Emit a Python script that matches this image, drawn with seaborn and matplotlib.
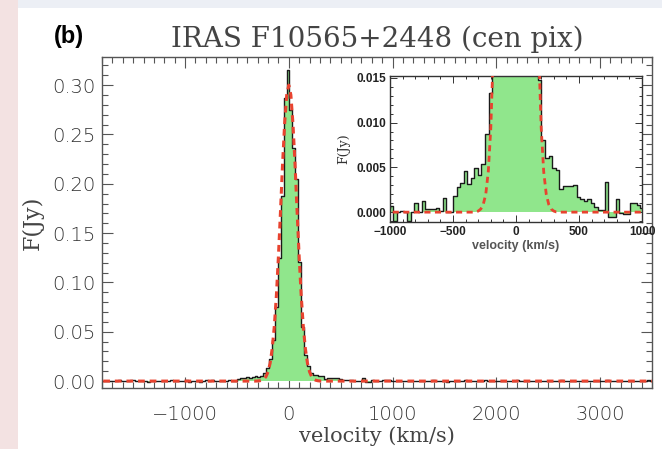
import numpy as np
import matplotlib
matplotlib.use("Agg")
import matplotlib.pyplot as plt
import seaborn as sns
from matplotlib.ticker import MultipleLocator, FormatStrFormatter
from matplotlib.patches import Rectangle

# ---------------- data ----------------
channel_start = -1814.0     # left edge of first channel, km/s
channel_width = 28.0        # km/s

flux_blue_far = [0.0004, -0.0003, 0.0002, 0.0006, -0.0002, 0.0001, 0.0008, 0.0003, -0.0004, 0.0002,
                 0.0007, 0.0010, 0.0002, -0.0003, 0.0001, 0.0005, -0.0006, -0.0002, 0.0003, 0.0006,
                 0.0001, -0.0004, 0.0002, 0.0004, 0.0008, 0.0002, -0.0003, 0.0003, 0.0005]

flux_core = [0.0007, -0.0010, 0.0000, 0.0001, 0.0000, -0.0010, 0.0000, 0.0010, 0.0000, 0.0012,
             0.0004, 0.0003, 0.0003, 0.0005, 0.0001, 0.0016, 0.0000, 0.0000, 0.0018, 0.0028,
             0.0032, 0.0046, 0.0031, 0.0038, 0.0049, 0.0041, 0.0054, 0.0087, 0.0133, 0.0220,
             0.0420, 0.0750, 0.1250, 0.1880, 0.2870, 0.3150, 0.2750, 0.2360, 0.2050, 0.1210,
             0.0550, 0.0260, 0.0148, 0.0081, 0.0060, 0.0063, 0.0049, 0.0047, 0.0026, 0.0029,
             0.0029, 0.0029, 0.0030, 0.0017, 0.0015, 0.0012, 0.0015, 0.0010, 0.0006, 0.0002,
             0.0002, 0.0034, -0.0005, -0.0005, 0.0015, -0.0001, -0.0002, -0.0002, 0.0010, 0.0010,
             0.0008, 0.0005]

flux_red_far = [0.0003, -0.0002, 0.0004, 0.0001, 0.0006, -0.0003, 0.0002, 0.0000, 0.0005, -0.0004,
                0.0001, 0.0003, -0.0002, 0.0007, 0.0002, -0.0001, 0.0004, 0.0000, -0.0005, 0.0002,
                0.0006, 0.0001, -0.0003, 0.0003, 0.0008, 0.0002, -0.0002, 0.0000, 0.0004, -0.0004,
                0.0003, 0.0007, 0.0001, -0.0002, 0.0005, 0.0002, -0.0003, 0.0001, 0.0006, 0.0003,
                -0.0001, 0.0004, 0.0009, 0.0002, -0.0002, 0.0003, 0.0000, 0.0005, -0.0003, 0.0002,
                0.0004, -0.0001, 0.0006, 0.0001, -0.0004, 0.0002, 0.0005, 0.0008, 0.0003, -0.0002,
                0.0001, 0.0004, -0.0003, 0.0002, 0.0006, 0.0000, -0.0002, 0.0003, 0.0005, 0.0001,
                -0.0003, 0.0002, 0.0004, 0.0007, 0.0002, -0.0001, 0.0003, 0.0000, 0.0005, 0.0002,
                -0.0002, 0.0004, 0.0001, 0.0006, 0.0003, -0.0001, 0.0002, 0.0008, 0.0003, 0.0001]

model_vel = [-1900, -340, -320, -300, -280, -260, -240, -220, -200, -180, -160, -140, -120, -100,
             -80, -60, -40, -20, 0, 20, 40, 60, 80, 100, 120, 140, 160, 180, 200, 220, 240,
             260, 280, 300, 320, 340, 3600]
model_flux = [0.0, 0.0, 0.00002, 0.00012, 0.00034, 0.00086, 0.0020, 0.0045, 0.0094, 0.0181,
              0.0327, 0.055, 0.086, 0.126, 0.172, 0.220, 0.261, 0.290, 0.300, 0.290, 0.261,
              0.220, 0.172, 0.126, 0.086, 0.055, 0.0327, 0.0181, 0.0094, 0.0045, 0.0020,
              0.00086, 0.00034, 0.00012, 0.00002, 0.0, 0.0]

title_text = "IRAS F10565+2448 (cen pix)"
panel_label = "(b)"
x_label = "velocity (km/s)"
y_label = "F(Jy)"

# ---------------- assemble ----------------
flux = np.array(flux_blue_far + flux_core + flux_red_far)
vel = channel_start + channel_width * (np.arange(len(flux)) + 0.5)

GREEN = "#90e68c"
RED = "#e8432f"
TXT = "#444444"
SERIF = ["DejaVu Serif", "Liberation Serif"]

sns.set_style("white")
plt.rcParams["font.family"] = ["DejaVu Sans", "Liberation Sans"]

fig = plt.figure(figsize=(6.62, 4.49), dpi=100)
fig.patch.set_facecolor("#eceff5")
fig.patches.append(Rectangle((0, 0), 18 / 662, 1, transform=fig.transFigure,
                             facecolor="#f3e2e2", edgecolor="none", zorder=-10))
fig.patches.append(Rectangle((18 / 662, 0), 1, (449 - 8) / 449, transform=fig.transFigure,
                             facecolor="white", edgecolor="none", zorder=-10))


def draw(ax, lw_step, lw_model):
    ax.fill_between(vel, 0, flux, step="mid", color=GREEN, lw=0, zorder=1)
    sns.lineplot(x=vel, y=flux, ax=ax, estimator=None, sort=False,
                 drawstyle="steps-mid", color="#1a1a1a", lw=lw_step, zorder=2)
    sns.lineplot(x=model_vel, y=model_flux, ax=ax, estimator=None, sort=False,
                 color=RED, lw=lw_model, zorder=3)
    ax.lines[-1].set_dashes([2.2, 1.6])


# main axes
ax = fig.add_axes([102 / 662, 1 - 388 / 449, 550 / 662, 331 / 449])
ax.set_facecolor("white")
draw(ax, 1.0, 2.2)
ax.set_xlim(-1800, 3500)
ax.set_ylim(-0.007, 0.3285)
ax.xaxis.set_major_locator(MultipleLocator(1000))
ax.xaxis.set_minor_locator(MultipleLocator(100))
ax.yaxis.set_major_locator(MultipleLocator(0.05))
ax.yaxis.set_minor_locator(MultipleLocator(0.01))
ax.yaxis.set_major_formatter(FormatStrFormatter("%.2f"))
ax.tick_params(which="both", direction="in", top=True, right=True, bottom=True, left=True,
               colors="#555555", labelcolor="#333333", labelsize=14, width=0.8)
ax.tick_params(which="major", length=8)
ax.tick_params(axis="x", which="major", pad=12)
ax.tick_params(axis="y", which="major", pad=5)
ax.tick_params(which="minor", length=4)
for lab in ax.get_xticklabels() + ax.get_yticklabels():
    lab.set_fontweight("light")
for s in ax.spines.values():
    s.set_color("#555555")
    s.set_linewidth(1.0)
ax.set_xlabel(x_label, family=SERIF, fontsize=15, color=TXT, labelpad=2)
ax.set_ylabel(y_label, family=SERIF, fontsize=16, color=TXT, labelpad=6)
ax.set_title(title_text, family=SERIF, fontsize=20, color=TXT, pad=7)
fig.text(54 / 662, 1 - 36 / 449, panel_label, fontsize=17, fontweight="bold",
         family=["Liberation Sans", "DejaVu Sans"], color="black", va="center", ha="left")

# inset
ax2 = fig.add_axes([390 / 662, 1 - 222 / 449, 252 / 662, 146 / 449])
ax2.set_facecolor("white")
draw(ax2, 1.0, 2.0)
ax2.set_xlim(-1000, 1000)
ax2.set_ylim(-0.0011, 0.0152)
ax2.xaxis.set_major_locator(MultipleLocator(500))
ax2.xaxis.set_minor_locator(MultipleLocator(100))
ax2.yaxis.set_major_locator(MultipleLocator(0.005))
ax2.yaxis.set_minor_locator(MultipleLocator(0.001))
ax2.yaxis.set_major_formatter(FormatStrFormatter("%.3f"))
ax2.tick_params(which="both", direction="in", top=True, right=True, bottom=True, left=True,
                colors="#333333", labelcolor="#222222", labelsize=8.5, width=0.7)
ax2.tick_params(which="major", length=5, pad=3)
ax2.tick_params(which="minor", length=2.5)
for lab in ax2.get_xticklabels() + ax2.get_yticklabels():
    lab.set_fontweight("bold")
    lab.set_family(["Liberation Sans", "DejaVu Sans"])
for s in ax2.spines.values():
    s.set_color("#333333")
    s.set_linewidth(1.0)
ax2.set_xlabel(x_label, fontsize=9, fontweight="bold", family=["Liberation Sans", "DejaVu Sans"],
               color="#555555", labelpad=1)
ax2.set_ylabel(y_label, family=SERIF, fontsize=9, color="#333333", labelpad=4)

fig.savefig("out.png", dpi=100, facecolor=fig.get_facecolor())
